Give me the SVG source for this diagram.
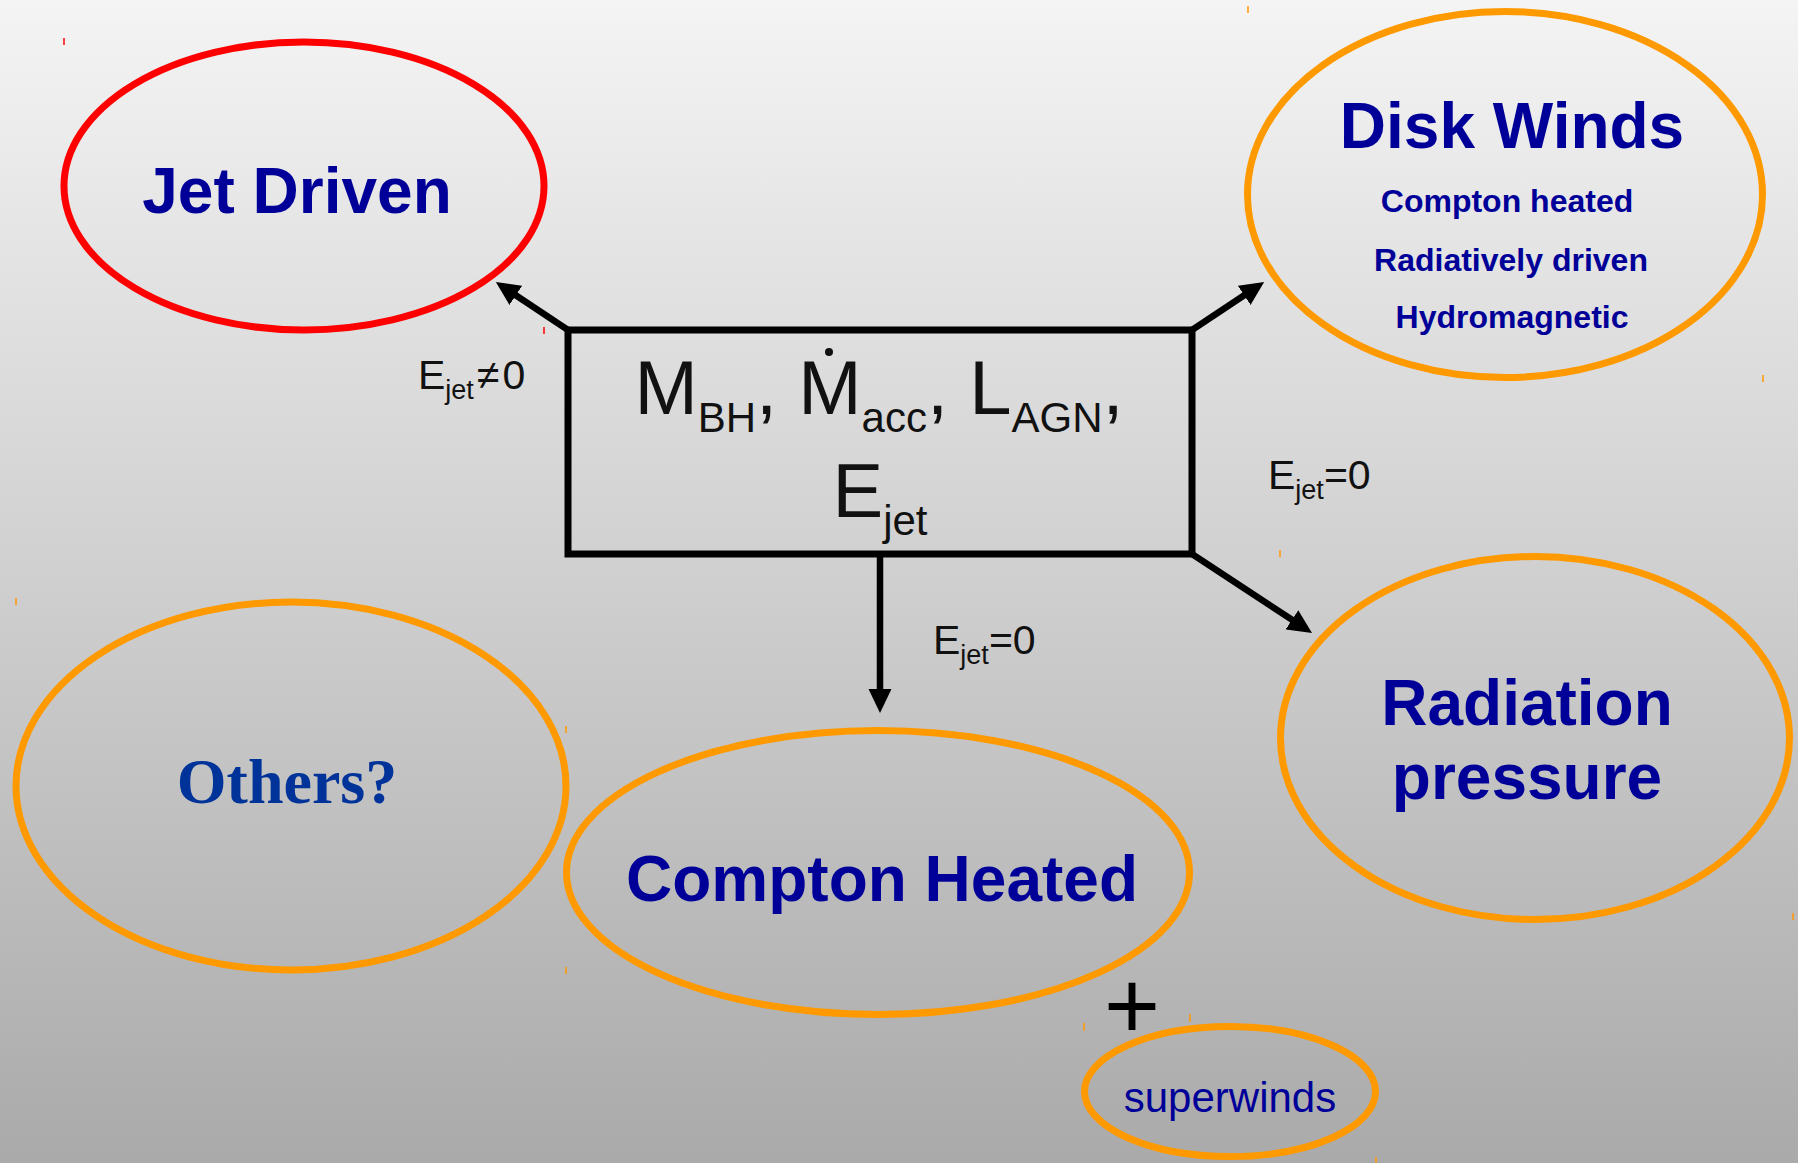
<svg xmlns="http://www.w3.org/2000/svg" width="1798" height="1163" viewBox="0 0 1798 1163">
<defs>
  <linearGradient id="bg" x1="0" y1="0" x2="0" y2="1">
    <stop offset="0" stop-color="#f4f4f4"/>
    <stop offset="1" stop-color="#aaaaaa"/>
  </linearGradient>
  <marker id="ah" markerUnits="userSpaceOnUse" markerWidth="26" markerHeight="24" refX="1" refY="11.5" orient="auto">
    <path d="M0,0 L24,11.5 L0,23 z" fill="#000"/>
  </marker>
</defs>
<style>
  .ell { fill: none; stroke-width: 7; }
  .orange { stroke: #ff9900; }
  .red { stroke: #ff0000; }
  .title { font-family: "Liberation Sans", Arial, sans-serif; font-weight: bold; font-size: 64px; fill: #000099; text-anchor: middle; }
  .sub { font-family: "Liberation Sans", Arial, sans-serif; font-weight: bold; font-size: 32px; fill: #000099; text-anchor: middle; }
  .lbl { font-family: "Liberation Sans", Arial, sans-serif; font-size: 41px; fill: #111; }
  .box { font-family: "Liberation Sans", Arial, sans-serif; font-size: 76px; fill: #111; }
  .conn { stroke: #000; stroke-width: 6.5; fill: none; }
  .tick { stroke-width: 1.5; }
</style>
<rect x="0" y="0" width="1798" height="1163" fill="url(#bg)"/>

<g id="artifacts">
  <line class="tick" x1="64" y1="38" x2="64" y2="45" stroke="#ff0000"/>
  <line class="tick" x1="544" y1="327" x2="544" y2="334" stroke="#ff0000"/>
  <line class="tick" x1="1248" y1="6" x2="1248" y2="13" stroke="#ff9900"/>
  <line class="tick" x1="1763" y1="375" x2="1763" y2="382" stroke="#ff9900"/>
  <line class="tick" x1="1280" y1="550" x2="1280" y2="557" stroke="#ff9900"/>
  <line class="tick" x1="1793" y1="913" x2="1793" y2="920" stroke="#ff9900"/>
  <line class="tick" x1="16" y1="598" x2="16" y2="605" stroke="#ff9900"/>
  <line class="tick" x1="566" y1="726" x2="566" y2="733" stroke="#ff9900"/>
  <line class="tick" x1="566" y1="967" x2="566" y2="974" stroke="#ff9900"/>
  <line class="tick" x1="1084" y1="1023" x2="1084" y2="1031" stroke="#ff9900"/>
  <line class="tick" x1="1190" y1="1014" x2="1190" y2="1022" stroke="#ff9900"/>
  <line class="tick" x1="1376" y1="1157" x2="1376" y2="1163" stroke="#ff9900"/>
</g>

<g id="connectors">
  <line class="conn" x1="568" y1="330" x2="515" y2="294.8" marker-end="url(#ah)"/>
  <line class="conn" x1="1192" y1="330" x2="1245" y2="294.8" marker-end="url(#ah)"/>
  <line class="conn" x1="1192" y1="554" x2="1292.8" y2="620.3" marker-end="url(#ah)"/>
  <line class="conn" x1="880" y1="554" x2="880" y2="690" marker-end="url(#ah)"/>
</g>

<g id="center-box">
  <rect x="568" y="330" width="624" height="224" fill="none" stroke="#000" stroke-width="7"/>
  <text class="box" x="879" y="414" text-anchor="middle">M<tspan font-size="42" dy="18">BH</tspan><tspan dy="-18">, M</tspan><tspan font-size="42" dy="18">acc</tspan><tspan dy="-18">, L</tspan><tspan font-size="42" dy="18">AGN</tspan><tspan dy="-18">,</tspan></text>
  <circle cx="829" cy="352" r="4" fill="#111"/>
  <text class="box" x="880" y="517" text-anchor="middle">E<tspan font-size="42" dy="18">jet</tspan></text>
</g>

<g id="label-jet">
  <text class="lbl" x="418" y="389">E<tspan font-size="27" dy="10">jet</tspan><tspan dy="-10" dx="3">≠</tspan><tspan dx="3">0</tspan></text>
</g>
<g id="label-right">
  <text class="lbl" x="1268" y="489">E<tspan font-size="27" dy="10">jet</tspan><tspan dy="-10">=0</tspan></text>
</g>
<g id="label-down">
  <text class="lbl" x="933" y="654">E<tspan font-size="27" dy="10">jet</tspan><tspan dy="-10">=0</tspan></text>
</g>

<g id="jet-driven">
  <ellipse class="ell red" cx="304" cy="186" rx="240" ry="144"/>
  <text class="title" x="297" y="213">Jet Driven</text>
</g>

<g id="disk-winds">
  <ellipse class="ell orange" cx="1505" cy="194.5" rx="257.5" ry="183"/>
  <text class="title" x="1512" y="148">Disk Winds</text>
  <text class="sub" x="1507" y="212">Compton heated</text>
  <text class="sub" x="1511" y="271">Radiatively driven</text>
  <text class="sub" x="1512" y="328.3">Hydromagnetic</text>
</g>

<g id="radiation-pressure">
  <ellipse class="ell orange" cx="1535" cy="738" rx="254.5" ry="181.5"/>
  <text class="title" x="1527" y="725">Radiation</text>
  <text class="title" x="1527" y="799">pressure</text>
</g>

<g id="others">
  <ellipse class="ell orange" cx="291" cy="786" rx="275" ry="184"/>
  <text x="287" y="803" text-anchor="middle" font-family="Liberation Serif, 'Times New Roman', serif" font-weight="bold" font-size="64" fill="#003399">Others?</text>
</g>

<g id="compton-heated">
  <ellipse class="ell orange" cx="878" cy="872.5" rx="311.5" ry="142"/>
  <text class="title" x="882" y="901">Compton Heated</text>
</g>

<g id="plus">
  <text x="1132" y="1039" text-anchor="middle" font-family="Liberation Sans, Arial, sans-serif" font-size="96" fill="#000">+</text>
</g>

<g id="superwinds">
  <ellipse class="ell orange" cx="1230" cy="1091.5" rx="145.5" ry="65"/>
  <text x="1230" y="1111.7" text-anchor="middle" font-family="Liberation Sans, Arial, sans-serif" font-size="42" fill="#000099">superwinds</text>
</g>
</svg>
